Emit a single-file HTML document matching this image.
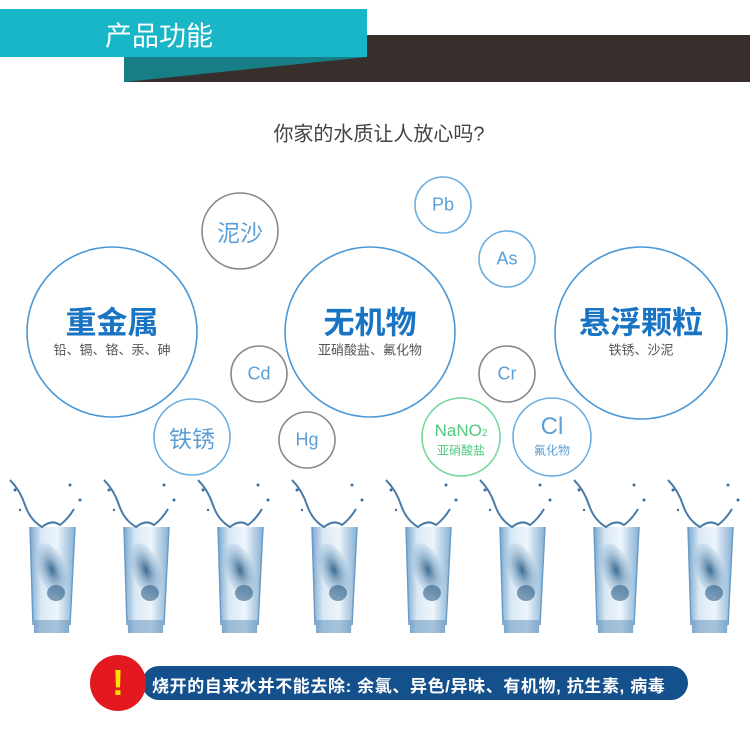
<!DOCTYPE html>
<html><head><meta charset="utf-8"><style>
html,body{margin:0;padding:0;background:#fff;}
body{width:750px;height:741px;position:relative;overflow:hidden;font-family:"Liberation Sans","Noto Sans CJK SC",sans-serif;}
.t{position:absolute;white-space:nowrap;text-align:center;transform:translate(-50%,-50%);}
</style></head><body>
<svg width="750" height="741" style="position:absolute;left:0;top:0">
<defs>
<linearGradient id="gw" x1="0" y1="0" x2="1" y2="0">
<stop offset="0" stop-color="#7aa8cf"/><stop offset="0.25" stop-color="#d9e8f4"/><stop offset="0.6" stop-color="#eef5fb"/><stop offset="1" stop-color="#86b0d3"/></linearGradient>
<radialGradient id="gb" cx="0.5" cy="0.5" r="0.5"><stop offset="0" stop-color="#3a6a92"/><stop offset="1" stop-color="#a5c5df" stop-opacity="0.3"/></radialGradient>
<g id="glass">
<path d="M0,52 L45,52 L39,158 L4,158 Z" fill="url(#gw)"/>
<path d="M0,52 L3,150 M45,52 L40,150" stroke="#6a9cc6" stroke-width="1.5" fill="none"/>
<ellipse cx="22" cy="95" rx="14" ry="28" fill="url(#gb)" transform="rotate(-20 22 95)"/>
<ellipse cx="26" cy="118" rx="9" ry="8" fill="#2f5f88" opacity="0.6"/>
<rect x="4" y="145" width="35" height="13" fill="#5d8fba" opacity="0.5"/>
<path d="M-20,5 Q-10,15 -5,30 Q0,45 12,52 Q22,44 30,50 Q38,44 44,34" stroke="#4a7aa5" stroke-width="2" fill="none"/>
<circle cx="-15" cy="15" r="1.5" fill="#3d6f9c"/><circle cx="40" cy="10" r="1.5" fill="#3d6f9c"/><circle cx="50" cy="25" r="1.5" fill="#3d6f9c"/><circle cx="-10" cy="35" r="1.2" fill="#3d6f9c"/>
</g>
</defs>
<rect x="124" y="35" width="626" height="47" fill="#382e2b"/>
<polygon points="124,57 367,57 124,82" fill="#177e86"/>
<rect x="0" y="9" width="367" height="48" fill="#18b6c6"/>
<g fill="none" stroke-width="1.6">
<circle cx="112" cy="332" r="85" stroke="#4b98d6"/>
<circle cx="370" cy="332" r="85" stroke="#4b98d6"/>
<circle cx="641" cy="333" r="86" stroke="#4b98d6"/>
<circle cx="240" cy="231" r="38" stroke="#888"/>
<circle cx="443" cy="205" r="28" stroke="#6aaee0"/>
<circle cx="507" cy="259" r="28" stroke="#6aaee0"/>
<circle cx="259" cy="374" r="28" stroke="#888"/>
<circle cx="507" cy="374" r="28" stroke="#888"/>
<circle cx="307" cy="440" r="28" stroke="#888"/>
<circle cx="192" cy="437" r="38" stroke="#6aaee0"/>
<circle cx="461" cy="437" r="39" stroke="#6fd79a"/>
<circle cx="552" cy="437" r="39" stroke="#6aaee0"/>
</g>
<use href="#glass" x="30" y="475"/><use href="#glass" x="124" y="475"/><use href="#glass" x="218" y="475"/><use href="#glass" x="312" y="475"/>
<use href="#glass" x="406" y="475"/><use href="#glass" x="500" y="475"/><use href="#glass" x="594" y="475"/><use href="#glass" x="688" y="475"/>
<rect x="142" y="666" width="546" height="34" rx="17" fill="#14508c"/>
<circle cx="118" cy="683" r="28" fill="#e4181f"/>
</svg>
<div class="t" style="left:159px;top:34px;color:#fff;font-size:27px;">产品功能</div>
<div class="t" style="left:379px;top:132px;color:#444;font-size:20px;">你家的水质让人放心吗?</div>
<div class="t" style="left:112px;top:320px;color:#1a74c4;font-size:31px;font-weight:bold;">重金属</div>
<div class="t" style="left:112px;top:349px;color:#555;font-size:13px;">铅、镉、铬、汞、砷</div>
<div class="t" style="left:370px;top:320px;color:#1a74c4;font-size:31px;font-weight:bold;">无机物</div>
<div class="t" style="left:370px;top:349px;color:#555;font-size:13px;">亚硝酸盐、氟化物</div>
<div class="t" style="left:641px;top:320px;color:#1a74c4;font-size:31px;font-weight:bold;">悬浮颗粒</div>
<div class="t" style="left:641px;top:349px;color:#555;font-size:13px;">铁锈、沙泥</div>
<div class="t" style="left:240px;top:231px;color:#5b9fd6;font-size:23px;">泥沙</div>
<div class="t" style="left:443px;top:205px;color:#5b9fd6;font-size:18px;">Pb</div>
<div class="t" style="left:507px;top:259px;color:#5b9fd6;font-size:18px;">As</div>
<div class="t" style="left:259px;top:374px;color:#5b9fd6;font-size:18px;">Cd</div>
<div class="t" style="left:507px;top:374px;color:#5b9fd6;font-size:18px;">Cr</div>
<div class="t" style="left:307px;top:440px;color:#5b9fd6;font-size:18px;">Hg</div>
<div class="t" style="left:192px;top:437px;color:#5b9fd6;font-size:23px;">铁锈</div>
<div class="t" style="left:461px;top:431px;color:#4ec97e;font-size:17px;">NaNO<span style="font-size:10px">2</span></div>
<div class="t" style="left:461px;top:450px;color:#4ec97e;font-size:12px;">亚硝酸盐</div>
<div class="t" style="left:552px;top:427px;color:#5b9fd6;font-size:24px;">Cl</div>
<div class="t" style="left:552px;top:450px;color:#5b9fd6;font-size:12px;">氟化物</div>
<div class="t" style="left:118px;top:683px;color:#ffe100;font-size:36px;font-weight:bold;">!</div>
<div style="position:absolute;left:152px;top:672px;color:#fff;font-size:17px;font-weight:bold;white-space:nowrap;letter-spacing:0.6px;">烧开的自来水并不能去除: 余氯、异色/异味、有机物, 抗生素, 病毒</div>
</body></html>
